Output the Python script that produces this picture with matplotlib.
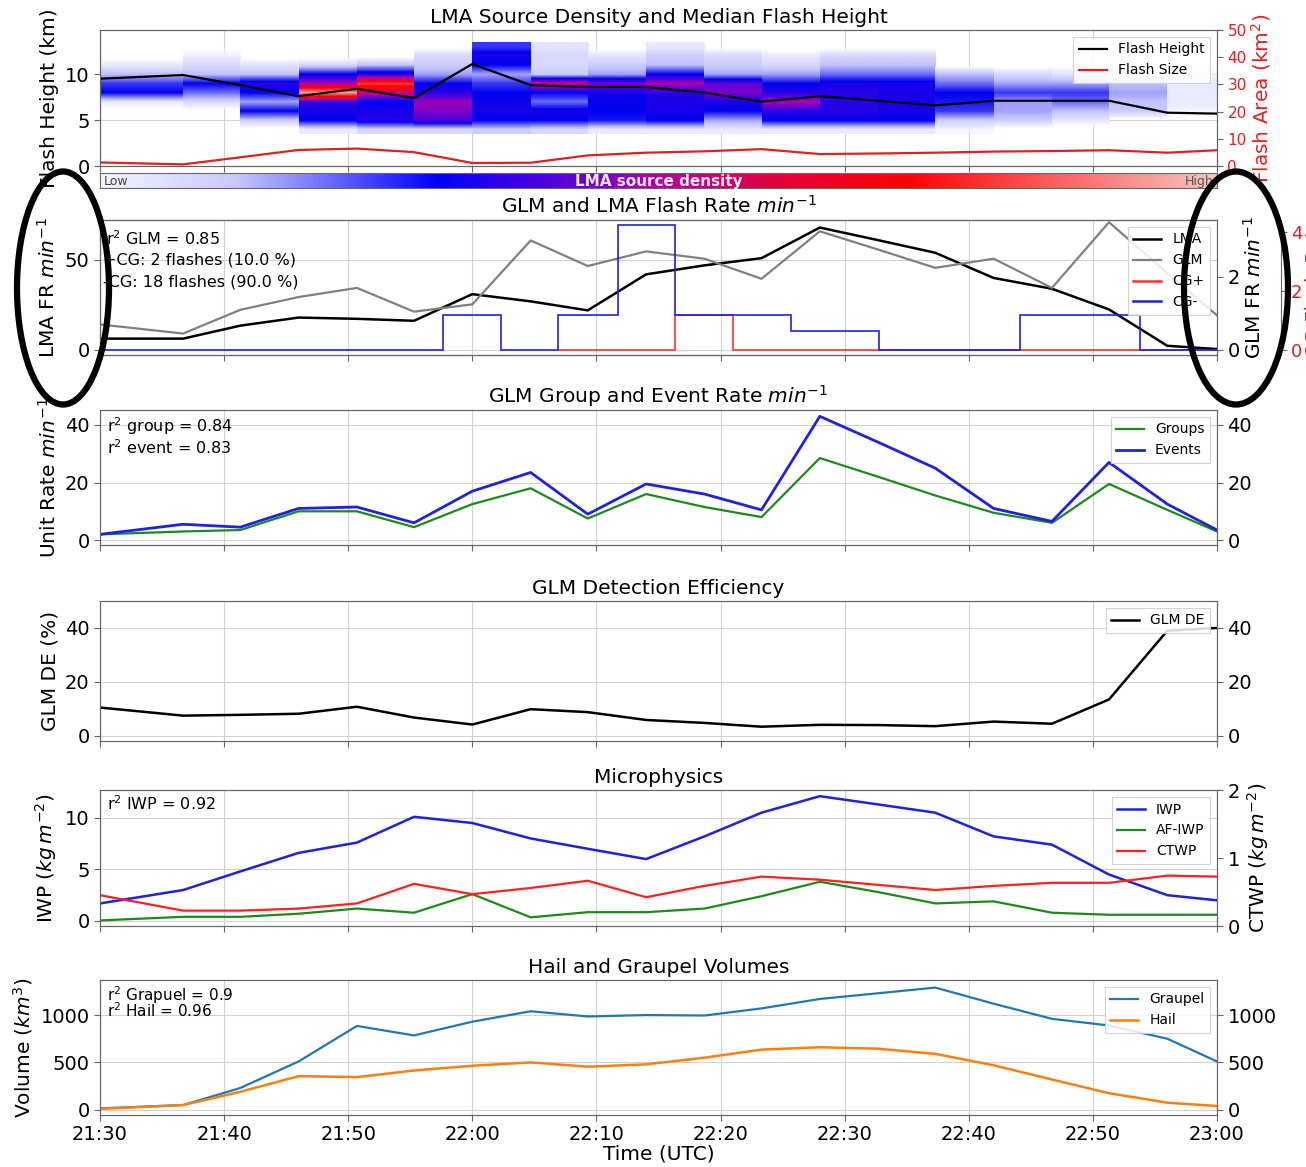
import numpy as np
import matplotlib
matplotlib.use("Agg")
import matplotlib.pyplot as plt
from matplotlib.colors import LinearSegmentedColormap
from matplotlib.patches import Ellipse
from matplotlib.lines import Line2D

# ---------------- data ----------------
time_min = [0, 6.7, 11.3, 16.0, 20.7, 25.3, 30.0, 34.7, 39.3, 44.0,
            48.7, 53.3, 58.0, 62.7, 67.3, 72.0, 76.7, 81.3, 86.0, 90.0]
tick_min = [0, 10, 20, 30, 40, 50, 60, 70, 80, 90]
tick_labels = ["21:30", "21:40", "21:50", "22:00", "22:10",
               "22:20", "22:30", "22:40", "22:50", "23:00"]

# LMA source density (one list per time bin, heights 4..13 km, bottom -> top)
height_edges = [3.5, 13.5]
source_density = [
    [0.00, 0.00, 0.00, 0.05, 0.30, 0.25, 0.12, 0.05, 0.00, 0.00],
    [0.00, 0.00, 0.00, 0.08, 0.20, 0.30, 0.12, 0.08, 0.04, 0.00],
    [0.00, 0.10, 0.30, 0.15, 0.30, 0.35, 0.12, 0.06, 0.00, 0.00],
    [0.05, 0.30, 0.33, 0.35, 0.95, 0.50, 0.30, 0.08, 0.00, 0.00],
    [0.08, 0.35, 0.33, 0.30, 0.55, 0.80, 0.35, 0.12, 0.00, 0.00],
    [0.08, 0.40, 0.45, 0.48, 0.35, 0.30, 0.15, 0.10, 0.08, 0.00],
    [0.10, 0.30, 0.33, 0.32, 0.30, 0.25, 0.15, 0.30, 0.33, 0.25],
    [0.08, 0.30, 0.33, 0.20, 0.30, 0.55, 0.10, 0.08, 0.08, 0.06],
    [0.05, 0.28, 0.30, 0.30, 0.33, 0.45, 0.15, 0.10, 0.06, 0.00],
    [0.05, 0.30, 0.33, 0.33, 0.35, 0.50, 0.30, 0.12, 0.10, 0.05],
    [0.05, 0.15, 0.30, 0.33, 0.45, 0.42, 0.15, 0.10, 0.08, 0.00],
    [0.05, 0.30, 0.35, 0.50, 0.35, 0.30, 0.15, 0.08, 0.05, 0.00],
    [0.05, 0.30, 0.35, 0.35, 0.35, 0.33, 0.20, 0.12, 0.08, 0.00],
    [0.05, 0.30, 0.33, 0.33, 0.33, 0.33, 0.20, 0.12, 0.08, 0.00],
    [0.03, 0.10, 0.25, 0.28, 0.30, 0.20, 0.12, 0.00, 0.00, 0.00],
    [0.00, 0.10, 0.15, 0.15, 0.25, 0.15, 0.08, 0.00, 0.00, 0.00],
    [0.00, 0.05, 0.12, 0.20, 0.25, 0.15, 0.06, 0.00, 0.00, 0.00],
    [0.00, 0.00, 0.10, 0.12, 0.15, 0.12, 0.05, 0.00, 0.00, 0.00],
    [0.00, 0.00, 0.03, 0.05, 0.05, 0.05, 0.03, 0.00, 0.00, 0.00],
]
flash_height = [9.5, 9.9, 8.8, 7.6, 8.4, 7.4, 11.1, 8.8, 8.6, 8.6,
                8.0, 7.0, 7.6, 7.1, 6.6, 7.1, 7.1, 7.1, 5.8, 5.7]
flash_size = [1.3, 0.6, 3.2, 5.9, 6.4, 5.1, 1.1, 1.2, 3.9, 4.9,
              5.4, 6.2, 4.4, 4.6, 4.9, 5.3, 5.5, 5.8, 4.9, 5.8]

# Flash rates
lma_rate = [6.3, 6.3, 13.5, 18.0, 17.3, 16.2, 31.0, 27.0, 22.0, 42.0,
            47.0, 51.0, 68.0, 61.0, 54.0, 40.0, 34.0, 22.5, 2.3, 0.5]
glm_rate = [0.70, 0.45, 1.10, 1.45, 1.70, 1.05, 1.25, 3.00, 2.30, 2.70,
            2.50, 1.95, 3.25, 2.75, 2.25, 2.50, 1.70, 3.50, 2.10, 0.95]
cg_minus_edges = [0, 27.6, 32.3, 36.9, 41.7, 46.3, 55.7, 62.8, 74.1, 83.8, 90]
cg_minus_rate = [0, 1.2, 0, 1.2, 4.25, 1.2, 0.65, 0, 1.2, 0]
cg_plus_edges = [36.9, 46.3, 51.0, 90]
cg_plus_rate = [0, 1.2, 0]

# GLM groups / events
groups = [2.0, 3.0, 3.5, 10.0, 10.0, 4.5, 12.5, 18.0, 7.5, 16.0,
          11.5, 8.0, 28.5, 22.0, 15.5, 9.5, 6.0, 19.5, 10.5, 3.0]
events = [2.0, 5.5, 4.5, 11.0, 11.5, 6.0, 17.0, 23.5, 9.0, 19.5,
          16.0, 10.5, 43.0, 34.0, 25.0, 11.0, 6.5, 27.0, 12.5, 3.5]

# GLM detection efficiency
glm_de = [10.5, 7.5, 7.8, 8.2, 10.8, 6.8, 4.2, 9.9, 8.8, 5.9,
          4.8, 3.4, 4.1, 4.0, 3.6, 5.3, 4.5, 13.5, 39.0, 40.0]

# Microphysics
iwp = [1.7, 3.0, 4.8, 6.6, 7.6, 10.1, 9.5, 8.0, 7.0, 6.0,
       8.2, 10.5, 12.1, 11.3, 10.5, 8.2, 7.4, 4.5, 2.5, 2.0]
af_iwp = [0.05, 0.4, 0.4, 0.7, 1.2, 0.8, 2.6, 0.35, 0.85, 0.85,
          1.2, 2.4, 3.8, 2.8, 1.7, 1.9, 0.8, 0.6, 0.6, 0.6]
ctwp = [2.5, 1.0, 1.0, 1.2, 1.7, 3.6, 2.6, 3.2, 3.9, 2.3,
        3.4, 4.3, 4.0, 3.5, 3.0, 3.4, 3.7, 3.7, 4.4, 4.3]

# Hail and graupel
graupel = [15, 50, 230, 510, 885, 785, 930, 1040, 985, 1000,
           995, 1070, 1170, 1230, 1290, 1120, 960, 890, 750, 510]
hail = [10, 50, 190, 355, 345, 415, 465, 500, 455, 480,
        550, 635, 660, 645, 590, 470, 320, 175, 75, 40]

# ---------------- figure ----------------
W, H = 1306, 1167
fig = plt.figure(figsize=(W / 100, H / 100), dpi=100)
plt.rcParams["font.family"] = ["DejaVu Sans"]

LEFT, RIGHT = 100, 1217
TICK_FS = 14
LAB_FS = 14.5
TITLE_FS = 14.5
LEG_FS = 10
TXT_FS = 11.5
SPINE_C = "0.4"


def axpos(top, bottom):
    return [LEFT / W, 1 - bottom / H, (RIGHT - LEFT) / W, (bottom - top) / H]


def style(ax, bottom_labels=False):
    ax.set_xlim(0, 90)
    ax.set_xticks(tick_min)
    if bottom_labels:
        ax.set_xticklabels(tick_labels)
    else:
        ax.set_xticklabels([])
    ax.set_axisbelow(True)
    ax.grid(True, color="0.82", lw=0.8)
    ax.tick_params(labelsize=TICK_FS, color=SPINE_C, length=4)
    for s in ax.spines.values():
        s.set_color(SPINE_C)


def twin_style(ax):
    ax.tick_params(labelsize=TICK_FS, color=SPINE_C, length=4)
    for s in ax.spines.values():
        s.set_color(SPINE_C)


def legend(ax, handles, labels, **kw):
    lg = ax.legend(handles, labels, loc="upper right", fontsize=LEG_FS,
                   framealpha=0.85, edgecolor="0.8", fancybox=False, **kw)
    lg.get_frame().set_linewidth(0.8)
    return lg


# ---- Panel 1: LMA source density ----
cmap_bar = LinearSegmentedColormap.from_list(
    "lmabar", [(0.0, "#f4f4ff"), (0.12, "#c8c8ff"), (0.30, "#0000ff"),
               (0.42, "#6000d8"), (0.50, "#b000a8"), (0.60, "#e00040"),
               (0.72, "#ff0000"), (1.0, "#f8c4c0")])
cmap_img = LinearSegmentedColormap.from_list(
    "lmaimg", [(0.0, (1, 1, 1, 0)), (0.04, (0.93, 0.93, 1, 1)),
               (0.12, "#c0c0ff"), (0.30, "#0000f0"),
               (0.42, "#6000d8"), (0.50, "#b000a8"), (0.60, "#e00040"),
               (0.72, "#ff0000"), (1.0, "#f8c4c0")])
ax1 = fig.add_axes(axpos(30, 166))
for i, col in enumerate(source_density):
    ax1.imshow(np.array(col)[:, None], origin="lower", aspect="auto",
               cmap=cmap_img, vmin=0, vmax=1, interpolation="bilinear",
               extent=[time_min[i], time_min[i + 1], height_edges[0], height_edges[1]],
               zorder=1)
h1, = ax1.plot(time_min, flash_height, color="black", lw=1.6, zorder=3)
style(ax1)
ax1.set_ylim(0, 14.8)
ax1.set_yticks([0, 5, 10])
ax1.set_ylabel("Flash Height (km)", fontsize=LAB_FS)
ax1.set_title("LMA Source Density and Median Flash Height", fontsize=TITLE_FS, pad=5)
ax1b = ax1.twinx()
h2, = ax1b.plot(time_min, flash_size, color="#e02020", lw=1.6)
ax1b.set_ylim(0, 50)
ax1b.set_yticks([0, 10, 20, 30, 40, 50])
twin_style(ax1b)
ax1b.tick_params(axis="y", labelcolor="#e02020", labelsize=11)
ax1b.set_ylabel("Flash Area (km$^2$)", color="#e02020", fontsize=LAB_FS, labelpad=2)
ax1b.set_xlim(0, 90)
legend(ax1b, [h1, h2], ["Flash Height", "Flash Size"])

# colorbar strip
cax = fig.add_axes(axpos(173, 188))
cax.imshow(np.linspace(0, 1, 512)[None, :], aspect="auto", cmap=cmap_bar,
           extent=[0, 1, 0, 1])
cax.set_xticks([])
cax.set_yticks([])
for s in cax.spines.values():
    s.set_color(SPINE_C)
cax.text(0.003, 0.45, "Low", fontsize=9, color="#444444", va="center", ha="left",
         transform=cax.transAxes)
cax.text(0.5, 0.45, "LMA source density", fontsize=11, color="#ffe8ff",
         fontweight="bold", va="center", ha="center", transform=cax.transAxes)
cax.text(0.997, 0.45, "High", fontsize=9, color="#555555", va="center",
         ha="right", transform=cax.transAxes)

# ---- Panel 2: flash rates ----
ax2 = fig.add_axes(axpos(220, 355))
style(ax2)
l_lma, = ax2.plot(time_min, lma_rate, color="black", lw=1.8, zorder=4)
ax2.set_ylim(-2.8, 72.2)
ax2.set_yticks([0, 50])
ax2.set_ylabel("LMA FR $min^{-1}$", fontsize=LAB_FS)
ax2.set_title("GLM and LMA Flash Rate $min^{-1}$", fontsize=TITLE_FS, pad=5)
ax2b = ax2.twinx()
l_glm, = ax2b.plot(time_min, glm_rate, color="0.5", lw=1.6)
ax2b.set_ylim(-0.137, 3.56)
ax2b.set_yticks([0, 2])
ax2b.set_ylabel("GLM FR $min^{-1}$", fontsize=LAB_FS, labelpad=2)
twin_style(ax2b)
ax2c = ax2.twinx()
ax2c.spines["right"].set_position(("axes", 1.057))
ax2c.stairs(cg_plus_rate, cg_plus_edges, baseline=None, color="#ff3030", lw=1.2)
ax2c.stairs(cg_minus_rate, cg_minus_edges, baseline=None, color="#2020e0", lw=1.2)
ax2c.set_ylim(-0.17, 4.41)
ax2c.set_yticks([0, 2, 4])
twin_style(ax2c)
ax2c.tick_params(axis="y", labelcolor="#e02020", labelsize=13)
ax2c.set_ylabel("CG Flash Rate", color="#e02020", fontsize=LAB_FS, labelpad=2)
ax2c.set_xlim(0, 90)
legend(ax2c, [l_lma, l_glm, Line2D([], [], color="#ff3030", lw=1.8),
              Line2D([], [], color="#2020e0", lw=1.8)],
       ["LMA", "GLM", "CG+", "CG-"])
ax2.text(0.005, 0.86, "r$^2$ GLM = 0.85", fontsize=TXT_FS, transform=ax2.transAxes, va="center")
ax2.text(0.003, 0.70, "+CG: 2 flashes (10.0 %)", fontsize=TXT_FS, transform=ax2.transAxes, va="center")
ax2.text(0.003, 0.54, "-CG: 18 flashes (90.0 %)", fontsize=TXT_FS, transform=ax2.transAxes, va="center")

# ---- Panel 3: groups / events ----
ax3 = fig.add_axes(axpos(410, 545))
style(ax3)
l_g, = ax3.plot(time_min, groups, color="#1a8a1a", lw=1.6)
l_e, = ax3.plot(time_min, events, color="#2020e0", lw=2.0)
ax3.set_ylim(-1.7, 45.2)
ax3.set_yticks([0, 20, 40])
ax3.set_ylabel("Unit Rate $min^{-1}$", fontsize=LAB_FS)
ax3.set_title("GLM Group and Event Rate $min^{-1}$", fontsize=TITLE_FS, pad=5)
ax3b = ax3.twinx()
ax3b.set_ylim(-1.7, 45.2)
ax3b.set_yticks([0, 20, 40])
twin_style(ax3b)
legend(ax3, [l_g, l_e], ["Groups", "Events"])
ax3.text(0.006, 0.88, "r$^2$ group = 0.84", fontsize=TXT_FS, transform=ax3.transAxes, va="center")
ax3.text(0.006, 0.72, "r$^2$ event = 0.83", fontsize=TXT_FS, transform=ax3.transAxes, va="center")

# ---- Panel 4: detection efficiency ----
ax4 = fig.add_axes(axpos(601, 741))
style(ax4)
l_de, = ax4.plot(time_min, glm_de, color="black", lw=1.8)
ax4.set_ylim(-1.9, 50)
ax4.set_yticks([0, 20, 40])
ax4.set_ylabel("GLM DE (%)", fontsize=LAB_FS)
ax4.set_title("GLM Detection Efficiency", fontsize=TITLE_FS, pad=5)
ax4b = ax4.twinx()
ax4b.set_ylim(-1.9, 50)
ax4b.set_yticks([0, 20, 40])
twin_style(ax4b)
legend(ax4, [l_de], ["GLM DE"])

# ---- Panel 5: microphysics ----
ax5 = fig.add_axes(axpos(790, 926))
style(ax5)
l_iwp, = ax5.plot(time_min, iwp, color="#2020e0", lw=1.8)
l_af, = ax5.plot(time_min, af_iwp, color="#1a8a1a", lw=1.6)
l_ct, = ax5.plot(time_min, ctwp, color="#ff2020", lw=1.6)
ax5.set_ylim(-0.49, 12.7)
ax5.set_yticks([0, 5, 10])
ax5.set_ylabel("IWP ($kg\\,m^{-2}$)", fontsize=LAB_FS)
ax5.set_title("Microphysics", fontsize=TITLE_FS, pad=5)
ax5b = ax5.twinx()
ax5b.set_ylim(0, 2)
ax5b.set_yticks([0, 1, 2])
twin_style(ax5b)
ax5b.set_ylabel("CTWP ($kg\\,m^{-2}$)", fontsize=LAB_FS, labelpad=4)
legend(ax5, [l_iwp, l_af, l_ct], ["IWP", "AF-IWP", "CTWP"])
ax5.text(0.006, 0.9, "r$^2$ IWP = 0.92", fontsize=TXT_FS, transform=ax5.transAxes, va="center")

# ---- Panel 6: hail and graupel ----
ax6 = fig.add_axes(axpos(980, 1115))
style(ax6, bottom_labels=True)
l_gr, = ax6.plot(time_min, graupel, color="#1f77b4", lw=1.6)
l_ha, = ax6.plot(time_min, hail, color="#ff7f0e", lw=1.8)
ax6.set_ylim(-55, 1370)
ax6.set_yticks([0, 500, 1000])
ax6.set_ylabel("Volume ($km^3$)", fontsize=LAB_FS)
ax6.set_xlabel("Time (UTC)", fontsize=LAB_FS, labelpad=0)
ax6.set_title("Hail and Graupel Volumes", fontsize=TITLE_FS, pad=5)
ax6b = ax6.twinx()
ax6b.set_ylim(-55, 1370)
ax6b.set_yticks([0, 500, 1000])
twin_style(ax6b)
legend(ax6, [l_gr, l_ha], ["Graupel", "Hail"])
ax6.text(0.006, 0.89, "r$^2$ Grapuel = 0.9", fontsize=11, transform=ax6.transAxes, va="center")
ax6.text(0.006, 0.775, "r$^2$ Hail = 0.96", fontsize=11, transform=ax6.transAxes, va="center")

# ---- hand-drawn highlight ellipses ----
for cx, w in [(63, 92), (1236, 104)]:
    e = Ellipse((cx / W, 1 - 288 / H), w / W, 233 / H, transform=fig.transFigure,
                fill=False, lw=4.5, edgecolor="black", zorder=20)
    fig.add_artist(e)

fig.savefig("out.png", dpi=100)
